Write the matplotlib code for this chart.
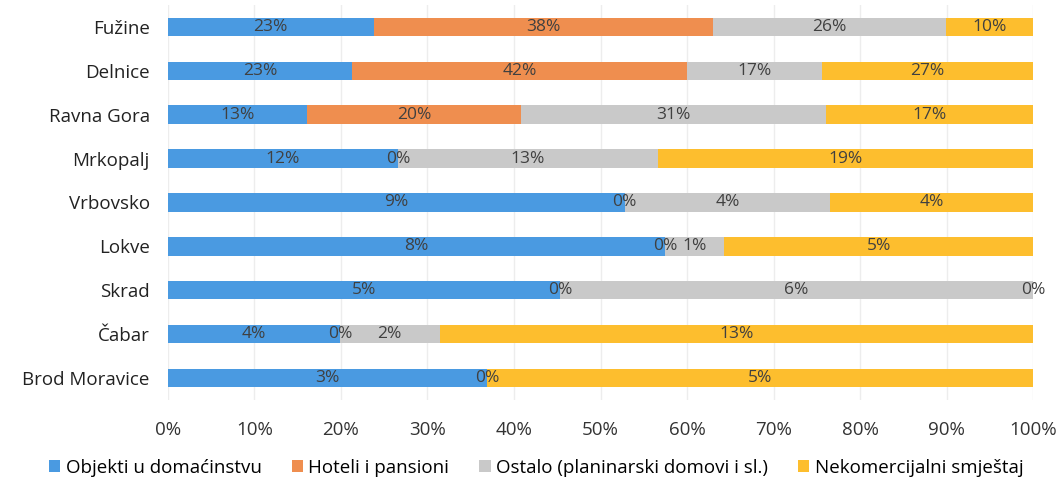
import numpy as np
from matplotlib import pyplot as plt

# municipalities, top to bottom
places = ['Fužine', 'Delnice', 'Ravna Gora', 'Mrkopalj', 'Vrbovsko',
          'Lokve', 'Skrad', 'Čabar', 'Brod Moravice']

series = ['Objekti u domaćinstvu', 'Hoteli i pansioni',
          'Ostalo (planinarski domovi i sl.)', 'Nekomercijalni smještaj']

# bar shares (percent of the row)
domacinstvo_share = [23.8, 21.3, 16.1, 26.6, 52.8, 57.5, 45.3, 19.9, 36.9]
hoteli_share = [39.2, 38.7, 24.7, 0.0, 0.0, 0.0, 0.0, 0.0, 0.0]
ostalo_share = [26.9, 15.6, 35.2, 30.0, 23.7, 6.8, 54.7, 11.5, 0.0]
nekom_share = [10.1, 24.4, 24.0, 43.4, 23.5, 35.7, 0.0, 68.6, 63.1]

# percentages printed on the bars (None = no label)
domacinstvo_lbl = [23, 23, 13, 12, 9, 8, 5, 4, 3]
hoteli_lbl = [38, 42, 20, 0, 0, 0, 0, 0, 0]
ostalo_lbl = [26, 17, 31, 13, 4, 1, 6, 2, None]
nekom_lbl = [10, 27, 17, 19, 4, 5, 0, 13, 5]

colors = ['#4A9AE1', '#EF8E4F', '#C9C9C9', '#FDBE2E']

shares = [domacinstvo_share, hoteli_share, ostalo_share, nekom_share]
labels = [domacinstvo_lbl, hoteli_lbl, ostalo_lbl, nekom_lbl]

plt.rcParams['font.family'] = ['Open Sans', 'DejaVu Sans']

fig = plt.figure(figsize=(10.62, 4.95), dpi=100)
ax = fig.add_axes([0.158, 0.192, 0.815, 0.798])

y = np.arange(len(places))[::-1]
left = np.zeros(len(places))
for vals, lbls, col, name in zip(shares, labels, colors, series):
    vals = np.array(vals)
    ax.barh(y, vals, left=left, height=0.42, color=col, label=name, zorder=2)
    for yi, l, v, lb in zip(y, left, vals, lbls):
        if lb is None:
            continue
        ax.text(l + v / 2, yi, f'{lb}%', ha='center', va='center',
                fontsize=12.5, color='#404040', zorder=3)
    left += vals

ax.set_xlim(0, 100)
ax.set_ylim(-0.5, len(places) - 0.5)
ax.set_xticks(np.arange(0, 101, 10))
ax.set_xticklabels([f'{t}%' for t in range(0, 101, 10)], fontsize=13.5, color='#333333')
ax.set_yticks(y)
ax.set_yticklabels(places, fontsize=13.5, color='#222222')
ax.tick_params(axis='both', length=0)
ax.tick_params(axis='x', pad=15)
ax.tick_params(axis='y', pad=13)
ax.grid(axis='x', color='#EDEDED', linewidth=1, zorder=0)
for s in ax.spines.values():
    s.set_visible(False)

fig.legend(loc='center', bbox_to_anchor=(0.505, 0.055), ncol=4, frameon=False,
           fontsize=13.5, handlelength=0.6, handleheight=0.6, handletextpad=0.3,
           columnspacing=1.6)

fig.savefig('out.png', dpi=100)
